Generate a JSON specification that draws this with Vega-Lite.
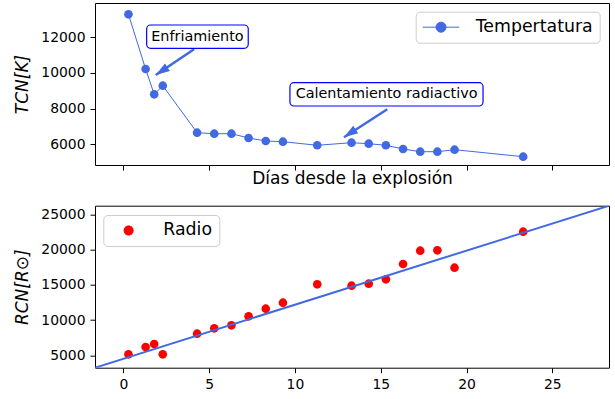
{
  "$schema": "https://vega.github.io/schema/vega-lite/v6.json",
  "padding": {"left": 12, "top": 2, "right": 0, "bottom": 0},
  "config": {
    "font": "DejaVu Sans",
    "view": {"stroke": "black", "strokeWidth": 1},
    "axis": {
      "grid": false, "domain": false, "tickColor": "black", "tickSize": 5, "tickWidth": 1,
      "labelFont": "DejaVu Sans", "labelFontSize": 13.9, "labelColor": "black", "labelPadding": 5,
      "titleFont": "DejaVu Sans", "titleFontSize": 17, "titleFontWeight": "normal", "titleColor": "black",
      "labelFlush": false
    },
    "legend": {
      "labelFont": "DejaVu Sans", "labelFontSize": 17.35, "labelColor": "black",
      "padding": 6.8, "fillColor": "rgba(255,255,255,0.8)", "strokeColor": "#cccccc", "cornerRadius": 4,
      "symbolOffset": 9.85, "labelOffset": 26
    }
  },
  "datasets": {
    "temp": [
      {"dia": 0.3, "T": 13283}, {"dia": 1.3, "T": 10218}, {"dia": 1.8, "T": 8801}, {"dia": 2.3, "T": 9283},
      {"dia": 4.3, "T": 6650}, {"dia": 5.3, "T": 6594}, {"dia": 6.3, "T": 6594}, {"dia": 7.3, "T": 6353},
      {"dia": 8.3, "T": 6185}, {"dia": 9.3, "T": 6146}, {"dia": 11.3, "T": 5944}, {"dia": 13.3, "T": 6090},
      {"dia": 14.3, "T": 6034}, {"dia": 15.3, "T": 5944}, {"dia": 16.3, "T": 5737}, {"dia": 17.3, "T": 5585},
      {"dia": 18.3, "T": 5585}, {"dia": 19.3, "T": 5697}, {"dia": 23.3, "T": 5305}
    ],
    "radio": [
      {"dia": 0.3, "R": 5142}, {"dia": 1.3, "R": 6177}, {"dia": 1.8, "R": 6603}, {"dia": 2.3, "R": 5142},
      {"dia": 4.3, "R": 8064}, {"dia": 5.3, "R": 8830}, {"dia": 6.3, "R": 9255}, {"dia": 7.3, "R": 10532},
      {"dia": 8.3, "R": 11610}, {"dia": 9.3, "R": 12461}, {"dia": 11.3, "R": 15071}, {"dia": 13.3, "R": 14872},
      {"dia": 14.3, "R": 15156}, {"dia": 15.3, "R": 15780}, {"dia": 16.3, "R": 17950}, {"dia": 17.3, "R": 19837},
      {"dia": 18.3, "R": 19894}, {"dia": 19.3, "R": 17426}, {"dia": 23.3, "R": 22532}
    ],
    "ajuste": [
      {"dia": -3, "R": 2206}, {"dia": 30, "R": 27517}
    ],
    "notas": [
      {"texto": "Enfriamiento", "dia": 4.32, "T": 12031, "x1": 1.36, "x2": 7.28, "y1": 11378, "y2": 12684,
       "ax": 4.12, "ay": 11322, "bx": 1.89, "by": 9882},
      {"texto": "Calentamiento radiactivo", "dia": 15.34, "T": 8798, "x1": 9.71, "x2": 20.96, "y1": 8146, "y2": 9451,
       "ax": 15.38, "ay": 7961, "bx": 12.86, "by": 6392}
    ]
  },
  "vconcat": [
    {
      "width": 514, "height": 162,
      "layer": [
        {
          "data": {"name": "temp"},
          "mark": {"type": "line", "color": "royalblue", "strokeWidth": 1},
          "encoding": {
            "x": {"field": "dia", "type": "quantitative",
                  "scale": {"domain": [-1.649, 28.3], "nice": false, "zero": false},
                  "axis": {"values": [0, 5, 10, 15, 20, 25], "labels": false, "title": "Días desde la explosión",
                           "titleBaseline": "alphabetic", "titleY": 18.3}},
            "y": {"field": "T", "type": "quantitative",
                  "scale": {"domain": [4840, 13916], "nice": false, "zero": false},
                  "axis": {"values": [6000, 8000, 10000, 12000], "format": "d", "title": "TCN[K]",
                           "titleFontStyle": "italic", "titleBaseline": "alphabetic", "titleX": -68, "titleAngle": 270}}
          }
        },
        {
          "data": {"name": "temp"},
          "mark": {"type": "point", "filled": true, "size": 75, "opacity": 1, "shape": "circle"},
          "encoding": {
            "x": {"field": "dia", "type": "quantitative"},
            "y": {"field": "T", "type": "quantitative"},
            "color": {"datum": "Tempertatura", "type": "nominal",
                      "scale": {"domain": ["Tempertatura"], "range": ["royalblue"]},
                      "legend": {"title": null, "orient": "none", "legendX": 320.7, "legendY": 8.7,
                                 "symbolType": "M-2.29,0H2.29M-0.625,0A0.625,0.625,0,1,1,0.625,0A0.625,0.625,0,1,1,-0.625,0Z",
                                 "symbolSize": 256, "symbolStrokeColor": "royalblue", "symbolStrokeWidth": 1,
                                 "symbolFillColor": "royalblue", "symbolOpacity": 1}}
          }
        },
        {
          "data": {"name": "notas"},
          "mark": {"type": "rule", "color": "royalblue", "strokeWidth": 2.5},
          "encoding": {
            "x": {"field": "ax", "type": "quantitative"}, "y": {"field": "ay", "type": "quantitative"},
            "x2": {"field": "bx"}, "y2": {"field": "by"}
          }
        },
        {
          "data": {"name": "notas"},
          "mark": {"type": "point", "shape": "M0,0L-0.9,2.8L0.9,2.8Z", "size": 100, "filled": true,
                   "color": "royalblue", "opacity": 1, "angle": 236.5},
          "encoding": {
            "x": {"field": "bx", "type": "quantitative"}, "y": {"field": "by", "type": "quantitative"}
          }
        },
        {
          "data": {"name": "notas"},
          "mark": {"type": "rect", "fill": "white", "stroke": "blue", "strokeWidth": 1.2, "cornerRadius": 4},
          "encoding": {
            "x": {"field": "x1", "type": "quantitative"}, "x2": {"field": "x2"},
            "y": {"field": "y1", "type": "quantitative"}, "y2": {"field": "y2"}
          }
        },
        {
          "data": {"name": "notas"},
          "mark": {"type": "text", "fontSize": 14.4, "color": "black", "baseline": "middle", "align": "center"},
          "encoding": {
            "x": {"field": "dia", "type": "quantitative"}, "y": {"field": "T", "type": "quantitative"},
            "text": {"field": "texto"}
          }
        }
      ]
    },
    {
      "width": 514, "height": 162,
      "layer": [
        {
          "data": {"name": "radio"},
          "mark": {"type": "point", "filled": true, "size": 75, "opacity": 1, "shape": "circle"},
          "encoding": {
            "x": {"field": "dia", "type": "quantitative",
                  "scale": {"domain": [-1.649, 28.3], "nice": false, "zero": false},
                  "axis": {"values": [0, 5, 10, 15, 20, 25], "title": null}},
            "y": {"field": "R", "type": "quantitative",
                  "scale": {"domain": [3241, 26220], "nice": false, "zero": false},
                  "axis": {"values": [5000, 10000, 15000, 20000, 25000], "format": "d", "title": "RCN[R⊙]",
                           "titleFontStyle": "italic", "titleBaseline": "alphabetic", "titleX": -68, "titleAngle": 270}},
            "color": {"datum": "Radio", "type": "nominal",
                      "scale": {"domain": ["Radio"], "range": ["red"]},
                      "legend": {"title": null, "orient": "none", "legendX": 8.3, "legendY": 9.3,
                                 "symbolType": "M-0.625,0A0.625,0.625,0,1,1,0.625,0A0.625,0.625,0,1,1,-0.625,0Z",
                                 "symbolSize": 256, "symbolStrokeWidth": 0, "symbolFillColor": "red", "symbolOpacity": 1}}
          }
        },
        {
          "data": {"name": "ajuste"},
          "mark": {"type": "line", "color": "royalblue", "strokeWidth": 2, "clip": true},
          "encoding": {
            "x": {"field": "dia", "type": "quantitative"},
            "y": {"field": "R", "type": "quantitative"}
          }
        }
      ]
    }
  ],
  "spacing": 40.7,
  "bounds": "flush",
  "resolve": {"scale": {"color": "independent"}, "legend": {"color": "independent"}}
}
